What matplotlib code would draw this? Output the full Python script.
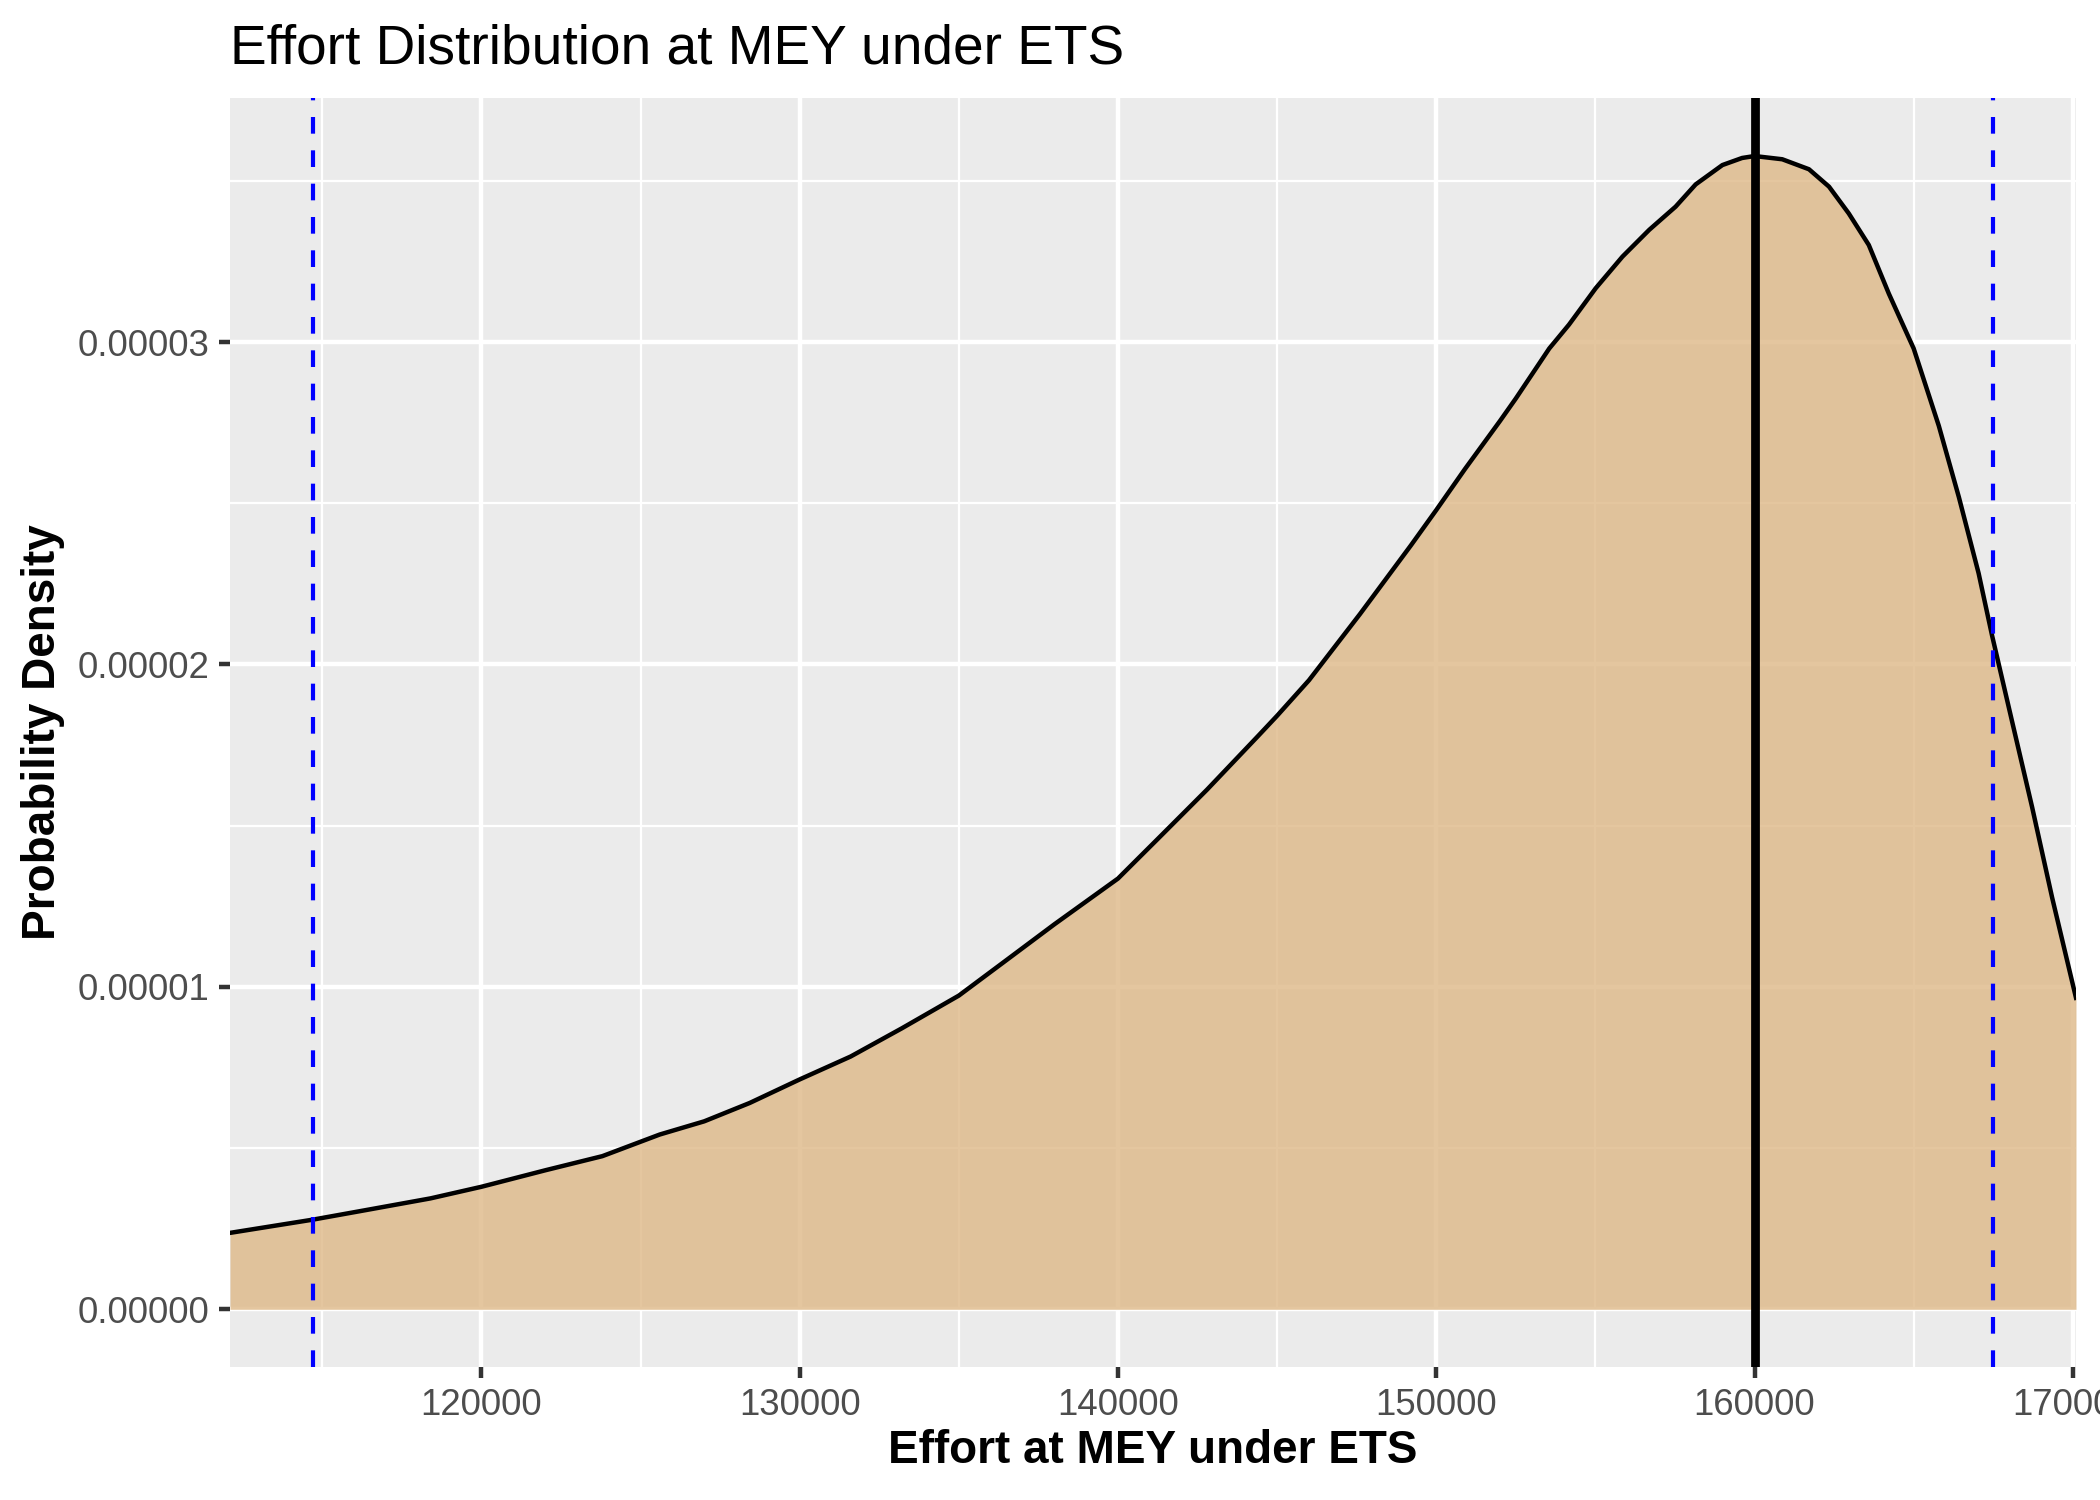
import numpy as np
import matplotlib
matplotlib.use("Agg")
import matplotlib.pyplot as plt

plt.rcParams['font.family'] = ['Liberation Sans', 'DejaVu Sans']

# density curve (effort, density in units of 1e-5)
effort = [112100, 114700, 116500, 118400, 120000, 122000, 123800, 125600,
          127000, 128430, 130000, 131600, 133200, 135000, 136400, 138000,
          140000, 141200, 142800, 144400, 145000, 146000, 147600, 149200,
          150000, 150900, 152000, 152500, 153550, 154170, 155010, 155850,
          156690, 157520, 158150, 158990, 159610, 160000, 160870, 161710,
          162340, 162960, 163590, 164220, 165000, 165790, 166420, 167040,
          167460, 168090, 168720, 169350, 170100]
density = [0.237, 0.278, 0.310, 0.344, 0.380, 0.431, 0.475, 0.542,
           0.583, 0.640, 0.713, 0.784, 0.871, 0.973, 1.076, 1.194,
           1.336, 1.454, 1.612, 1.778, 1.841, 1.951, 2.156, 2.369,
           2.479, 2.606, 2.755, 2.825, 2.980, 3.054, 3.167, 3.265,
           3.348, 3.420, 3.489, 3.549, 3.571, 3.577, 3.567, 3.536,
           3.482, 3.399, 3.301, 3.150, 2.980, 2.740, 2.519, 2.283,
           2.091, 1.824, 1.558, 1.277, 0.966]
density = [d * 1e-5 for d in density]

mey_line = 160000
ci_lines = [114700, 167500]

x_ticks = [120000, 130000, 140000, 150000, 160000, 170000]
y_ticks = [0.0, 0.00001, 0.00002, 0.00003]
y_tick_labels = ["0.00000", "0.00001", "0.00002", "0.00003"]

fig = plt.figure(figsize=(7, 5), dpi=300)
ax = fig.add_axes([230/2100, 1 - 1367/1500, (2076 - 230)/2100, (1367 - 98)/1500])

ax.set_facecolor('#EBEBEB')
for s in ax.spines.values():
    s.set_visible(False)

# grid
ax.set_xticks(x_ticks)
ax.set_xticks([115000, 125000, 135000, 145000, 155000, 165000], minor=True)
ax.set_yticks(y_ticks)
ax.set_yticks([0.000005, 0.000015, 0.000025, 0.000035], minor=True)
ax.grid(which='major', color='white', linewidth=1.07)
ax.grid(which='minor', color='white', linewidth=0.53)
ax.set_axisbelow(True)

ax.fill_between(effort, density, 0, color='burlywood', alpha=0.8, linewidth=0, zorder=2)
ax.plot(effort, density, color='black', linewidth=1.07, zorder=3,
        solid_joinstyle='round')

ax.axvline(mey_line, color='black', linewidth=2.1, zorder=4)
for v in ci_lines:
    ax.axvline(v, color='blue', linewidth=1.0, linestyle=(0, (4, 4)), zorder=4)

ax.set_xlim(112100, 170100)
ax.set_ylim(-0.179e-5, 3.757e-5)

ax.set_yticklabels(y_tick_labels)
ax.set_xticklabels([str(t) for t in x_ticks])
ax.tick_params(which='major', length=2.75, width=1.07, color='#333333',
               labelsize=8.8, labelcolor='#4D4D4D', pad=2.2)
ax.tick_params(which='minor', length=0)

fig.text(230/2100, 1 - 63/1500, "Effort Distribution at MEY under ETS",
         fontsize=13.2, ha='left', va='baseline', color='black')
fig.text(1153/2100, 1 - 1463/1500, "Effort at MEY under ETS",
         fontsize=11, fontweight='bold', ha='center', va='baseline')
fig.text(43/2100, 1 - 732/1500, "Probability Density",
         fontsize=11, fontweight='bold', ha='center', va='center', rotation=90)

fig.savefig("out.png", dpi=300)
